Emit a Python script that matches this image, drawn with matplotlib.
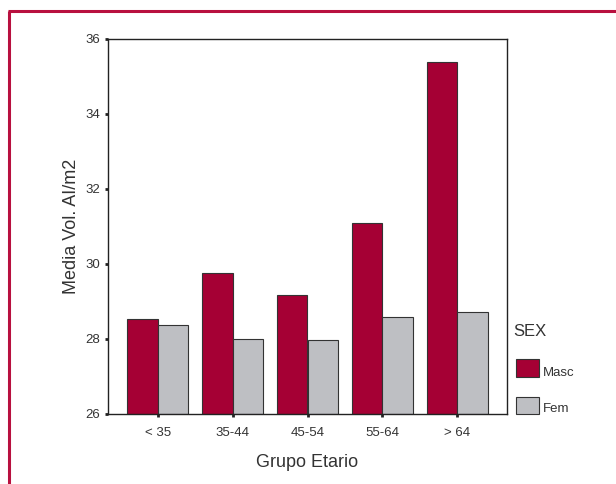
import matplotlib.pyplot as plt
import matplotlib.patches as mpatches
import numpy as np

plt.rcParams['font.family'] = ['Liberation Sans', 'DejaVu Sans']

# Data
grupos = ["< 35", "35-44", "45-54", "55-64", "> 64"]
masc = [28.52, 29.75, 29.17, 31.08, 35.37]
fem = [28.37, 28.01, 27.98, 28.59, 28.71]
y_ticks = [26, 28, 30, 32, 34, 36]

COL_MASC = "#A50034"
COL_FEM = "#BEBFC3"
TXT = "#333333"
FRAME = "#B8103F"

fig = plt.figure(figsize=(6.16, 4.84), dpi=100)
W, H = 616, 484

# outer frame (cut off at right and bottom edges)
fig.add_artist(plt.Line2D([9 / W, 9 / W], [0, 1 - 10.5 / H], color=FRAME, lw=2.2,
                          transform=fig.transFigure, solid_capstyle="butt"))
fig.add_artist(plt.Line2D([8 / W, 1], [1 - 10.5 / H, 1 - 10.5 / H], color=FRAME, lw=2.2,
                          transform=fig.transFigure, solid_capstyle="butt"))

ax = fig.add_axes([108 / W, 1 - 414 / H, 399 / W, (414 - 38.5) / H])

x = np.arange(len(grupos))
w = 0.41
ax.bar(x - w / 2, [m - 26 for m in masc], w, bottom=26, color=COL_MASC,
       edgecolor="#333333", linewidth=0.8)
ax.bar(x + w / 2, [f - 26 for f in fem], w, bottom=26, color=COL_FEM,
       edgecolor="#333333", linewidth=0.8)

ax.set_xlim(-0.665, 4.665)
ax.set_ylim(26, 36)
ax.set_yticks(y_ticks)
ax.set_xticks(x)
ax.set_xticklabels(grupos)
ax.tick_params(axis="both", direction="out", length=2.5, width=2, colors="#222222",
               labelcolor=TXT, labelsize=9.5)
ax.tick_params(axis="x", pad=7)
ax.tick_params(axis="y", pad=3)
for s in ax.spines.values():
    s.set_color("#222222")
    s.set_linewidth(1.0)

ax.set_xlabel("Grupo Etario", fontsize=13, color=TXT, labelpad=11)
ax.set_ylabel("Media Vol. AI/m2", fontsize=13, color=TXT, labelpad=4)

# legend
fig.text(513 / W, 1 - 331 / H, "SEX", fontsize=12, color=TXT, va="center", ha="left")
fig.add_artist(mpatches.Rectangle((516 / W, 1 - 377 / H), 23 / W, 18 / H,
                                  facecolor=COL_MASC, edgecolor="#333333", lw=0.8,
                                  transform=fig.transFigure))
fig.text(543 / W, 1 - 373 / H, "Masc", fontsize=9.5, color=TXT, va="center", ha="left")
fig.add_artist(mpatches.Rectangle((516 / W, 1 - 414 / H), 23 / W, 17 / H,
                                  facecolor=COL_FEM, edgecolor="#333333", lw=0.8,
                                  transform=fig.transFigure))
fig.text(543 / W, 1 - 409 / H, "Fem", fontsize=9.5, color=TXT, va="center", ha="left")

fig.savefig("out.png", dpi=100)
